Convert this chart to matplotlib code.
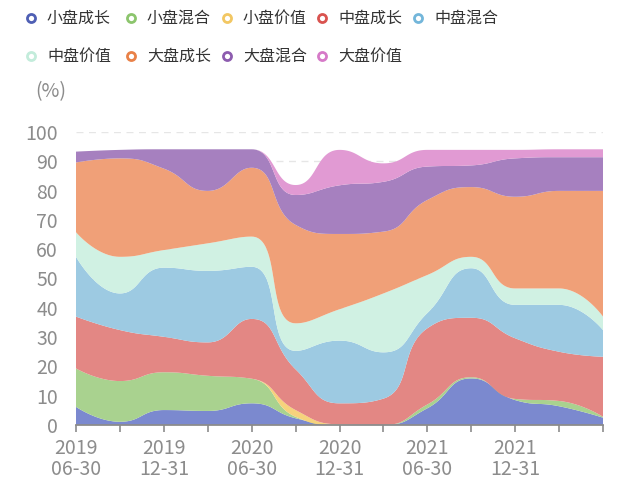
import numpy as np
import matplotlib
matplotlib.use("Agg")
import matplotlib.pyplot as plt
from matplotlib.lines import Line2D

plt.rcParams['font.family'] = ['Noto Sans CJK SC', 'DejaVu Sans']

# ---------------- data ----------------
dates = ["2019\n06-30", "2019\n09-30", "2019\n12-31", "2020\n03-31", "2020\n06-30",
         "2020\n09-30", "2020\n12-31", "2021\n03-31", "2021\n06-30", "2021\n09-30",
         "2021\n12-31", "2022\n03-31", "2022\n06-30"]

series_names = ["小盘成长", "小盘混合", "小盘价值", "中盘成长", "中盘混合",
                "中盘价值", "大盘成长", "大盘混合", "大盘价值"]

# individual (non-cumulative) shares, %
small_growth = [6.2, 1.1, 5.1, 4.8, 7.4, 2.3, 0.0, 0.0, 5.7, 15.9, 8.5, 6.4, 2.5]
small_blend  = [13.1, 13.9, 12.9, 12.0, 8.4, 0.5, 0.0, 0.0, 1.3, 0.4, 0.4, 1.8, 0.3]
small_value  = [0.0, 0.0, 0.0, 0.0, 0.0, 2.3, 0.2, 0.0, 0.0, 0.0, 0.0, 0.0, 0.0]
mid_growth   = [17.7, 17.4, 12.1, 11.4, 20.4, 13.9, 7.2, 9.0, 26.0, 20.3, 20.7, 16.8, 20.5]
mid_blend    = [20.4, 12.5, 23.6, 24.4, 17.8, 6.3, 21.4, 15.8, 5.2, 16.9, 11.4, 16.0, 9.1]
mid_value    = [8.4, 12.5, 6.0, 9.4, 10.3, 9.4, 10.7, 20.1, 13.0, 3.9, 5.6, 5.6, 4.6]
large_growth = [23.8, 33.6, 27.8, 17.9, 23.5, 33.6, 25.7, 21.1, 25.6, 23.8, 31.3, 33.3, 42.9]
large_blend  = [3.7, 2.9, 6.6, 14.2, 6.3, 10.2, 16.6, 17.0, 11.4, 7.4, 13.1, 11.5, 11.5]
large_value  = [0.0, 0.0, 0.0, 0.0, 0.0, 3.4, 12.1, 6.3, 5.7, 5.3, 2.9, 2.7, 2.7]

series_values = [small_growth, small_blend, small_value, mid_growth, mid_blend,
                 mid_value, large_growth, large_blend, large_value]

fill_colors = ["#7b89cf", "#a9d28f", "#f6d27c", "#e38784", "#9dcae2",
               "#d0f1e3", "#f0a078", "#a680bf", "#e19ad3"]
legend_colors = ["#4f5fb4", "#8cc56d", "#f2c763", "#d9534f", "#73b6da",
                 "#c3ecdb", "#e98148", "#8d5caf", "#d67ac8"]

# ---------------- figure ----------------
W, H, DPI = 640, 490, 100
fig = plt.figure(figsize=(W / DPI, H / DPI), dpi=DPI)
left, right, top, bottom = 76, 603, 132, 425
ax = fig.add_axes([left / W, 1 - bottom / H, (right - left) / W, (bottom - top) / H])

n = len(dates)
xs = np.arange(n, dtype=float)
kx = (right - left) / (n - 1)   # px per step
ky = (bottom - top) / 100.0     # px per unit


def clamp(v, a, b):
    return min(max(v, min(a, b)), max(a, b))


def smooth_curve(x, y, smooth=0.5, samples=40):
    """ECharts-5-like constrained cubic bezier smoothing (in pixel space)."""
    px = list(np.asarray(x, float) * kx)
    py = list(np.asarray(y, float) * ky)
    m = len(px)
    cp0 = [None] * m   # control point after point i
    cp1 = [None] * m   # control point before point i
    cp0[0] = (px[0], py[0])
    cp1[m - 1] = (px[m - 1], py[m - 1])
    for i in range(1, m - 1):
        x0, y0 = px[i - 1], py[i - 1]
        xc, yc = px[i], py[i]
        x1, y1 = px[i + 1], py[i + 1]
        vx, vy = x1 - x0, y1 - y0
        l0 = np.hypot(xc - x0, yc - y0)
        l1 = np.hypot(x1 - xc, y1 - yc)
        if l0 == 0 or l1 == 0:
            cp1[i] = (xc, yc)
            cp0[i] = (xc, yc)
            continue
        r = l1 / (l0 + l1)
        nx = xc + vx * smooth * r
        ny = yc + vy * smooth * r
        nx = clamp(nx, x1, xc)
        ny = clamp(ny, y1, yc)
        vx, vy = nx - xc, ny - yc
        bx = xc - vx * l0 / l1
        by = yc - vy * l0 / l1
        bx = clamp(bx, x0, xc)
        by = clamp(by, y0, yc)
        vx, vy = xc - bx, yc - by
        nx = xc + vx * l1 / l0
        ny = yc + vy * l1 / l0
        cp1[i] = (bx, by)
        cp0[i] = (nx, ny)
    t = np.linspace(0, 1, samples)
    ox, oy = [], []
    for i in range(m - 1):
        p0 = np.array([px[i], py[i]])
        p1 = np.array(cp0[i])
        p2 = np.array(cp1[i + 1])
        p3 = np.array([px[i + 1], py[i + 1]])
        tt = t if i == 0 else t[1:]
        b = ((1 - tt) ** 3)[:, None] * p0 + (3 * (1 - tt) ** 2 * tt)[:, None] * p1 \
            + (3 * (1 - tt) * tt ** 2)[:, None] * p2 + (tt ** 3)[:, None] * p3
        ox.append(b[:, 0]); oy.append(b[:, 1])
    return np.concatenate(ox) / kx, np.concatenate(oy) / ky


# grid lines
for gy in range(10, 101, 10):
    ax.axhline(gy, color="#e6e6e6", lw=1.0, ls=(0, (5, 4)), zorder=0)

cum = np.zeros(n)
prev_x, prev_y = xs.copy(), cum.copy()
for vals, col in zip(series_values, fill_colors):
    new = cum + np.array(vals)
    tx, ty = smooth_curve(xs, new)
    bx, by = prev_x, prev_y
    ax.fill(np.concatenate([tx, bx[::-1]]), np.concatenate([ty, by[::-1]]),
            color=col, lw=0, zorder=2)
    cum = new
    prev_x, prev_y = tx, ty

ax.set_xlim(0, n - 1)
ax.set_ylim(0, 100)
ax.set_yticks(range(0, 101, 10))
ax.set_xticks(xs)
ax.set_xticklabels([d if i % 2 == 0 and i < n - 1 else "" for i, d in enumerate(dates)],
                   linespacing=1.05)
ax.tick_params(axis="y", length=0, pad=13, labelsize=14, labelcolor="#8c8c8c")
ax.tick_params(axis="x", length=5, width=1.2, color="#8c8c8c", pad=4,
               labelsize=14, labelcolor="#8c8c8c")
for s in ["top", "right", "left"]:
    ax.spines[s].set_visible(False)
ax.spines["bottom"].set_color("#8c8c8c")
ax.spines["bottom"].set_linewidth(1.3)
ax.spines["bottom"].set_zorder(5)

fig.text(35 / W, 1 - 92 / H, "(%)", fontsize=14, color="#8c8c8c", va="center", ha="left")

# legend
row_y = [18, 56]
circ_x = [31, 131, 227, 322, 418]
for i, (name, col) in enumerate(zip(series_names, legend_colors)):
    r, c = divmod(i, 5)
    cx, cy = circ_x[c], row_y[r]
    fig.add_artist(Line2D([cx / W], [1 - cy / H], marker="o", ms=5.8, mew=2.0,
                          mfc="white", mec=col, ls="none", transform=fig.transFigure))
    fig.text((cx + 16) / W, 1 - cy / H, name, fontsize=11.5, color="#333333",
             va="center", ha="left")

fig.savefig("out.png", dpi=DPI)
